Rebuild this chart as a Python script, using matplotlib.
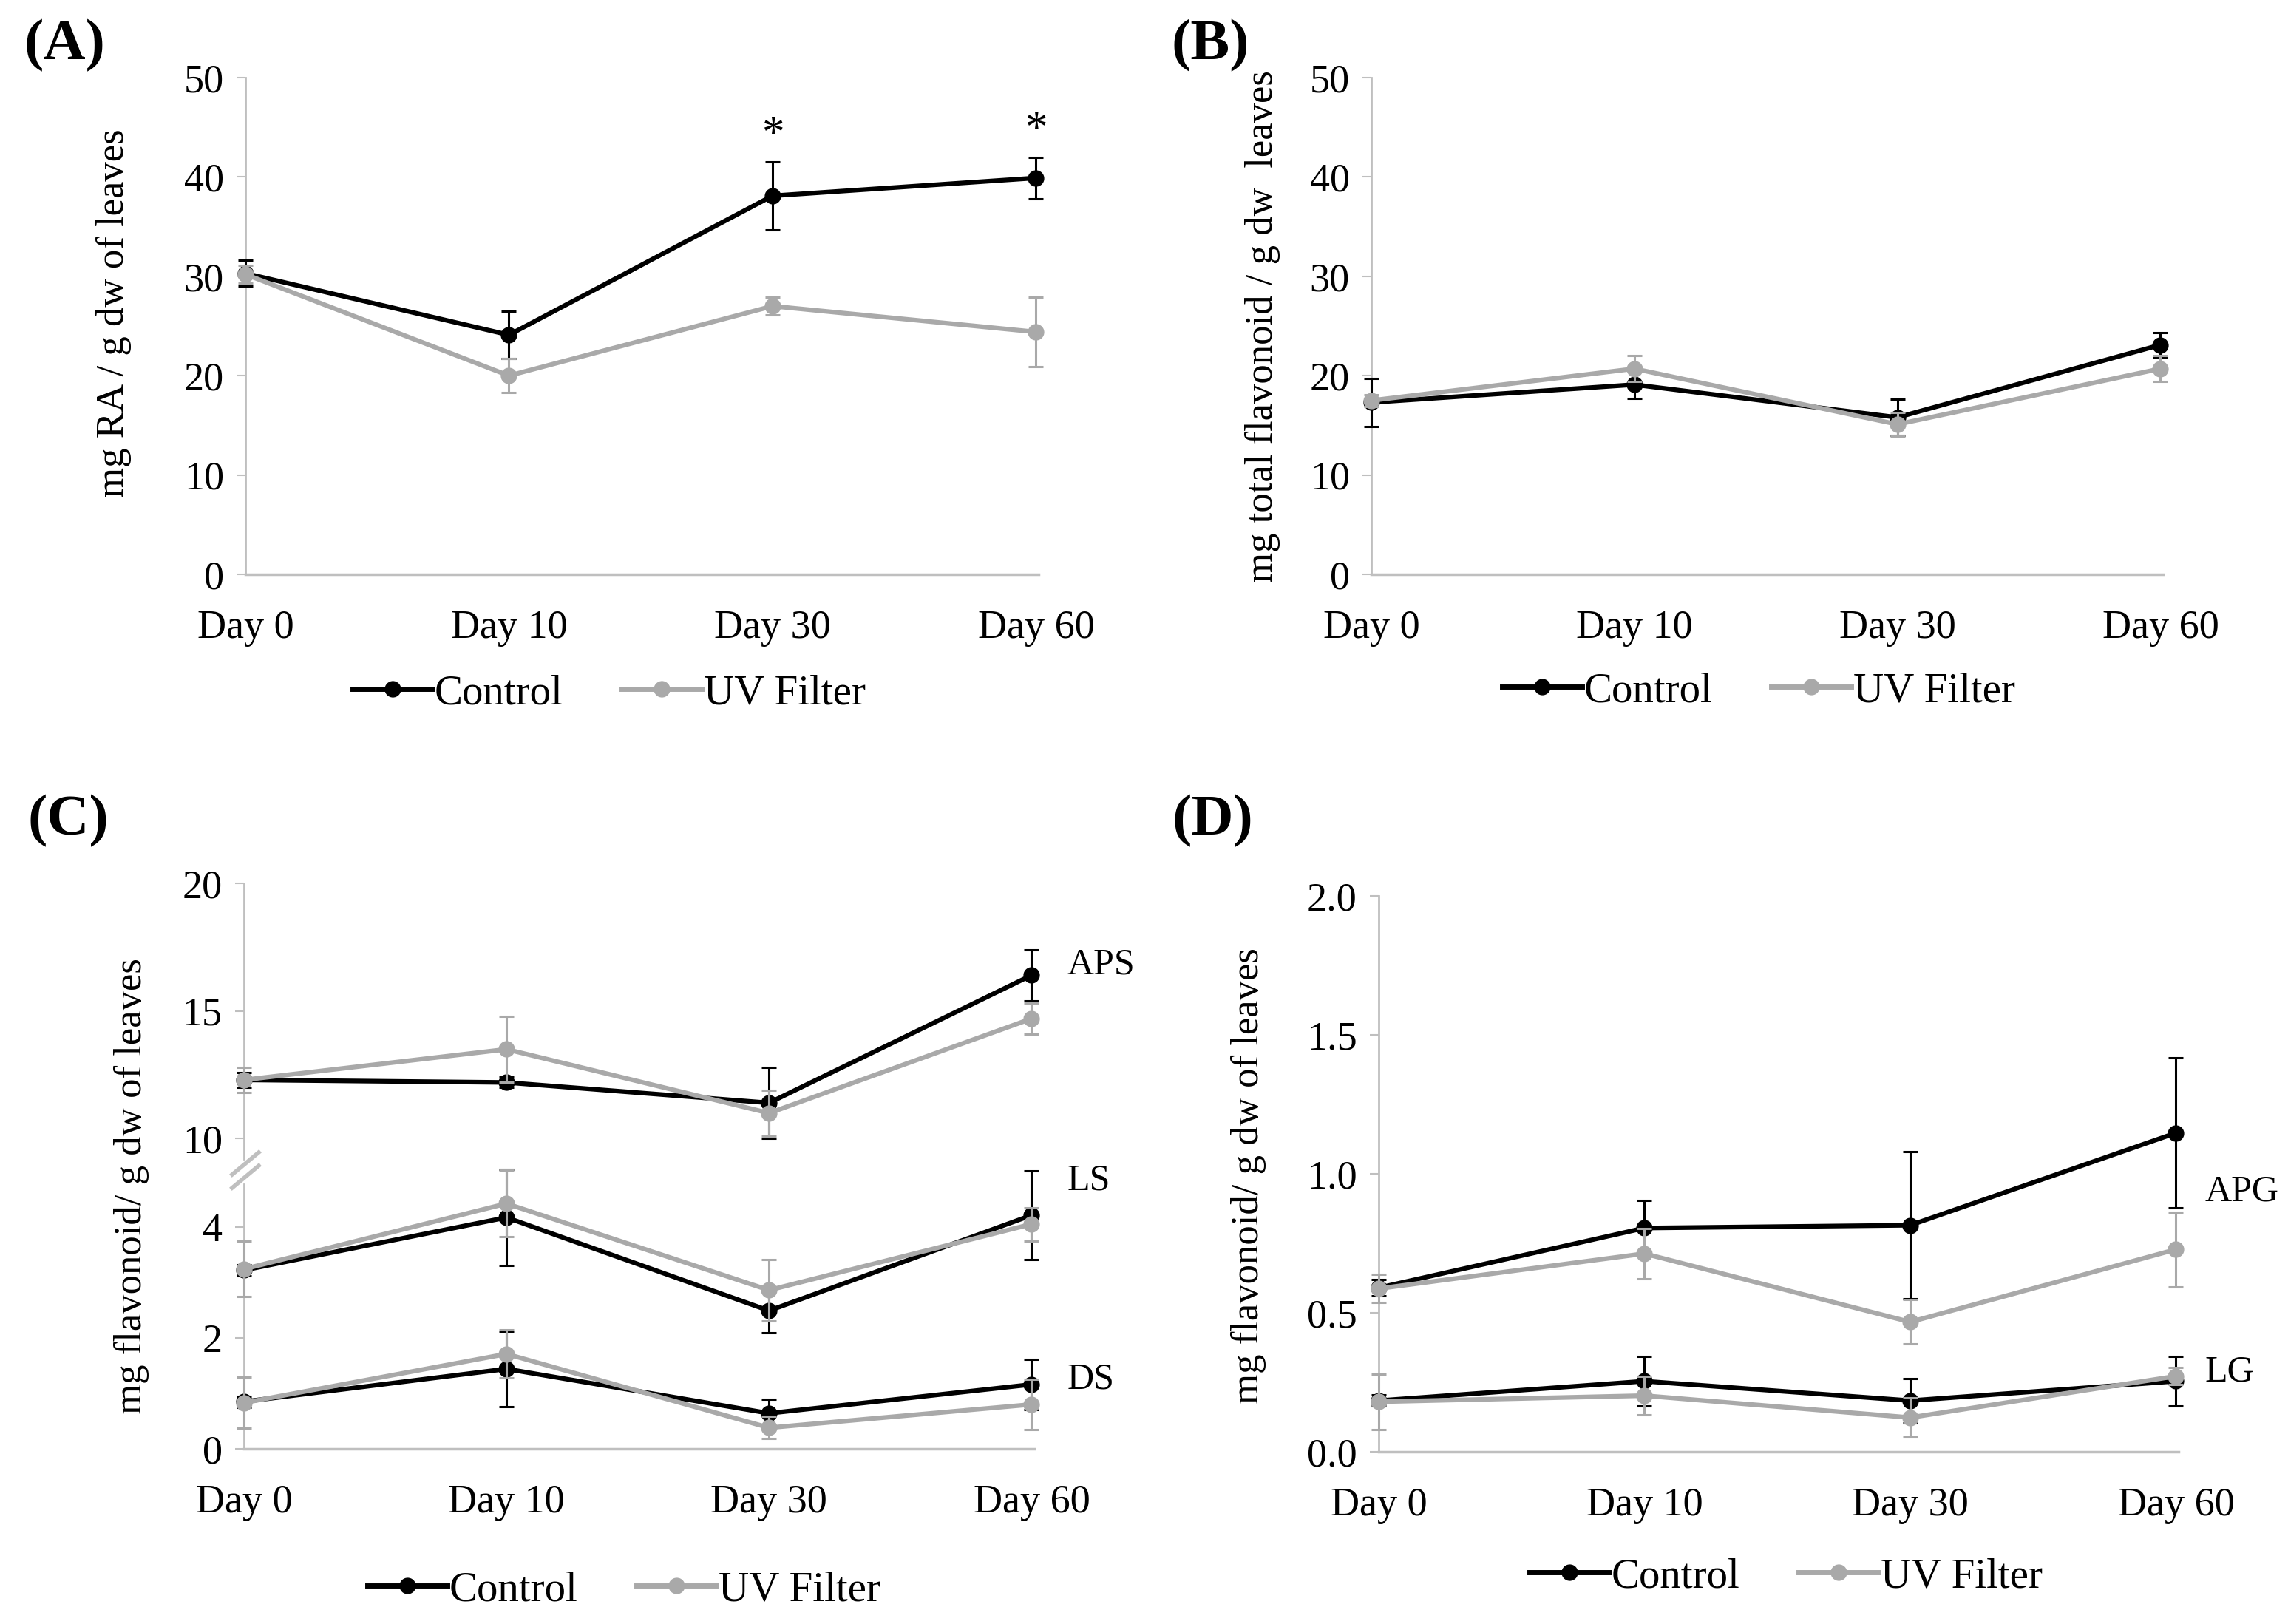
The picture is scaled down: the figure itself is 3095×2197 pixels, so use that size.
import matplotlib
matplotlib.use("Agg")
import matplotlib.pyplot as plt
from matplotlib.lines import Line2D

plt.rcParams['font.family'] = ['Liberation Serif', 'DejaVu Serif']

# -------------------------------------------------
#  Data
# -------------------------------------------------
days = ["Day 0", "Day 10", "Day 30", "Day 60"]

# (A) rosmarinic acid
ra_ctrl = [30.3, 24.1, 38.1, 39.9]
ra_ctrl_err = [1.3, 2.4, 3.4, 2.1]
ra_uv = [30.2, 20.0, 27.0, 24.4]
ra_uv_err = [0.9, 1.7, 0.9, 3.5]
ra_stars = ["", "", "*", "*"]

# (B) total flavonoid
tf_ctrl = [17.3, 19.1, 15.8, 23.1]
tf_ctrl_err = [2.4, 1.4, 1.8, 1.2]
tf_uv = [17.5, 20.7, 15.1, 20.7]
tf_uv_err = [0.6, 1.3, 1.2, 1.3]

# (C) APS / LS / DS
aps_ctrl = [12.3, 12.2, 11.4, 16.4]
aps_ctrl_err = [0.3, 0.2, 1.4, 1.0]
aps_uv = [12.3, 13.5, 11.0, 14.7]
aps_uv_err = [0.5, 1.3, 0.9, 0.6]
ls_ctrl = [3.22, 4.17, 2.49, 4.21]
ls_ctrl_err = [0.1, 0.87, 0.4, 0.8]
ls_uv = [3.24, 4.42, 2.86, 4.05]
ls_uv_err = [0.5, 0.6, 0.55, 0.3]
ds_ctrl = [0.85, 1.44, 0.64, 1.16]
ds_ctrl_err = [0.1, 0.68, 0.25, 0.45]
ds_uv = [0.83, 1.71, 0.38, 0.80]
ds_uv_err = [0.46, 0.43, 0.2, 0.45]

# (D) APG / LG
apg_ctrl = [0.59, 0.805, 0.815, 1.147]
apg_ctrl_err = [0.03, 0.1, 0.265, 0.27]
apg_uv = [0.587, 0.713, 0.467, 0.728]
apg_uv_err = [0.05, 0.09, 0.08, 0.135]
lg_ctrl = [0.184, 0.254, 0.184, 0.254]
lg_ctrl_err = [0.02, 0.09, 0.08, 0.09]
lg_uv = [0.18, 0.202, 0.123, 0.272]
lg_uv_err = [0.1, 0.07, 0.07, 0.03]

BLACK = "#000000"
GREY = "#a9a9a9"
AXIS = "#bfbfbf"
W, H = 3095, 2197
TICK_FS = 39
LAB_FS = 38


def rect(left, top, right, bottom):
    # pixel box -> figure fraction
    return [left / W, 1 - bottom / H, (right - left) / W, (bottom - top) / H]


def style(ax, show_x=True):
    ax.spines["top"].set_visible(False)
    ax.spines["right"].set_visible(False)
    ax.spines["left"].set_color(AXIS)
    ax.spines["left"].set_linewidth(2)
    ax.spines["bottom"].set_color(AXIS)
    ax.spines["bottom"].set_linewidth(2.5)
    ax.set_xlim(0, 3.01)
    ax.set_xticks(range(len(days)))
    ax.tick_params(axis="y", direction="out", length=9, width=1.5,
                   color=AXIS, labelsize=TICK_FS, pad=12)
    if show_x:
        ax.set_xticklabels(days)
        ax.tick_params(axis="x", length=0, labelsize=TICK_FS, pad=34)
    else:
        ax.spines["bottom"].set_visible(False)
        ax.tick_params(axis="x", length=0, labelbottom=False)
    ax.patch.set_alpha(0)


def pair(ax, ctrl, ctrl_err, uv, uv_err):
    x = range(len(days))
    for y, e, c, z in [(ctrl, ctrl_err, BLACK, 3), (uv, uv_err, GREY, 4)]:
        cont = ax.errorbar(x, y, yerr=e, color=c, lw=4.5, marker="o", ms=15,
                           ecolor=c, elinewidth=2.2, capsize=7, capthick=2.2,
                           zorder=z)
        for art in cont.get_children():
            art.set_clip_on(False)


def legend(cx, cy):
    handles = [
        Line2D([], [], color=BLACK, lw=5, marker="o", ms=15),
        Line2D([], [], color=GREY, lw=5, marker="o", ms=15),
    ]
    fig.legend(handles, ["Control", "UV Filter"], loc="center",
               bbox_to_anchor=(cx / W, 1 - cy / H), ncol=2, frameon=False,
               fontsize=41, handlelength=1.9, handletextpad=0.05,
               columnspacing=1.4)


fig = plt.figure(figsize=(W / 100, H / 100), dpi=100)

# ---------------- (A) ----------------
axA = fig.add_axes(rect(332, 105, 1405, 777))
style(axA)
pair(axA, ra_ctrl, ra_ctrl_err, ra_uv, ra_uv_err)
axA.set_ylim(0, 50)
axA.set_yticks(range(0, 51, 10))
for i, s in enumerate(ra_stars):
    if s:
        axA.annotate(s, (i, ra_ctrl[i] + ra_ctrl_err[i]), xytext=(0, 6),
                     textcoords="offset points", ha="center", va="bottom",
                     fontsize=44)
fig.text(154 / W, 1 - 424 / H, "mg RA / g dw of leaves", rotation=90,
         ha="center", va="center", fontsize=LAB_FS)
legend(824, 938)

# ---------------- (B) ----------------
axB = fig.add_axes(rect(1855, 105, 2926, 777))
style(axB)
pair(axB, tf_ctrl, tf_ctrl_err, tf_uv, tf_uv_err)
axB.set_ylim(0, 50)
axB.set_yticks(range(0, 51, 10))
fig.text(1708 / W, 1 - 442 / H, "mg total flavonoid / g dw  leaves",
         rotation=90, ha="center", va="center", fontsize=LAB_FS)
legend(2379, 935)

# ---------------- (C) broken axis ----------------
axCt = fig.add_axes(rect(330, 1195, 1399, 1568))
style(axCt, show_x=False)
pair(axCt, aps_ctrl, aps_ctrl_err, aps_uv, aps_uv_err)
axCt.set_ylim(9.2, 20)
axCt.set_yticks([10, 15, 20])

axCb = fig.add_axes(rect(330, 1602, 1399, 1960))
style(axCb)
pair(axCb, ls_ctrl, ls_ctrl_err, ls_uv, ls_uv_err)
pair(axCb, ds_ctrl, ds_ctrl_err, ds_uv, ds_uv_err)
axCb.set_ylim(0, 4.77)
axCb.set_yticks([0, 2, 4])

axCt.text(3.135, 16.8, "APS", ha="left", va="center", fontsize=36)
axCb.text(3.135, 4.83, "LS", ha="left", va="center", fontsize=36)
axCb.text(3.135, 1.25, "DS", ha="left", va="center", fontsize=36)

# break marks on the y axis
for dy in (-9, 9):
    fig.add_artist(Line2D([(314) / W, (350) / W],
                          [1 - (1598 + dy) / H, 1 - (1568 + dy) / H],
                          color=AXIS, lw=4))

fig.text(178 / W, 1 - 1605 / H, "mg flavonoid/ g dw of leaves", rotation=90,
         ha="center", va="center", fontsize=LAB_FS)
legend(844, 2151)

# ---------------- (D) ----------------
axD = fig.add_axes(rect(1865, 1212, 2947, 1964))
style(axD)
pair(axD, apg_ctrl, apg_ctrl_err, apg_uv, apg_uv_err)
pair(axD, lg_ctrl, lg_ctrl_err, lg_uv, lg_uv_err)
axD.set_ylim(0, 2.0)
axD.set_yticks([0, 0.5, 1.0, 1.5, 2.0])
axD.set_yticklabels(["0.0", "0.5", "1.0", "1.5", "2.0"])
axD.text(3.11, 0.936, "APG", ha="left", va="center", fontsize=36)
axD.text(3.11, 0.287, "LG", ha="left", va="center", fontsize=36)
fig.text(1689 / W, 1 - 1591 / H, "mg flavonoid/ g dw of leaves", rotation=90,
         ha="center", va="center", fontsize=LAB_FS)
legend(2416, 2133)

# panel letters
for lab, px, py in [("(A)", 87, 62), ("(B)", 1637, 62),
                    ("(C)", 92, 1111), ("(D)", 1640, 1111)]:
    fig.text(px / W, 1 - py / H, lab, ha="center", va="center",
             fontsize=57, fontweight="bold")

fig.savefig("out.png", dpi=100)
